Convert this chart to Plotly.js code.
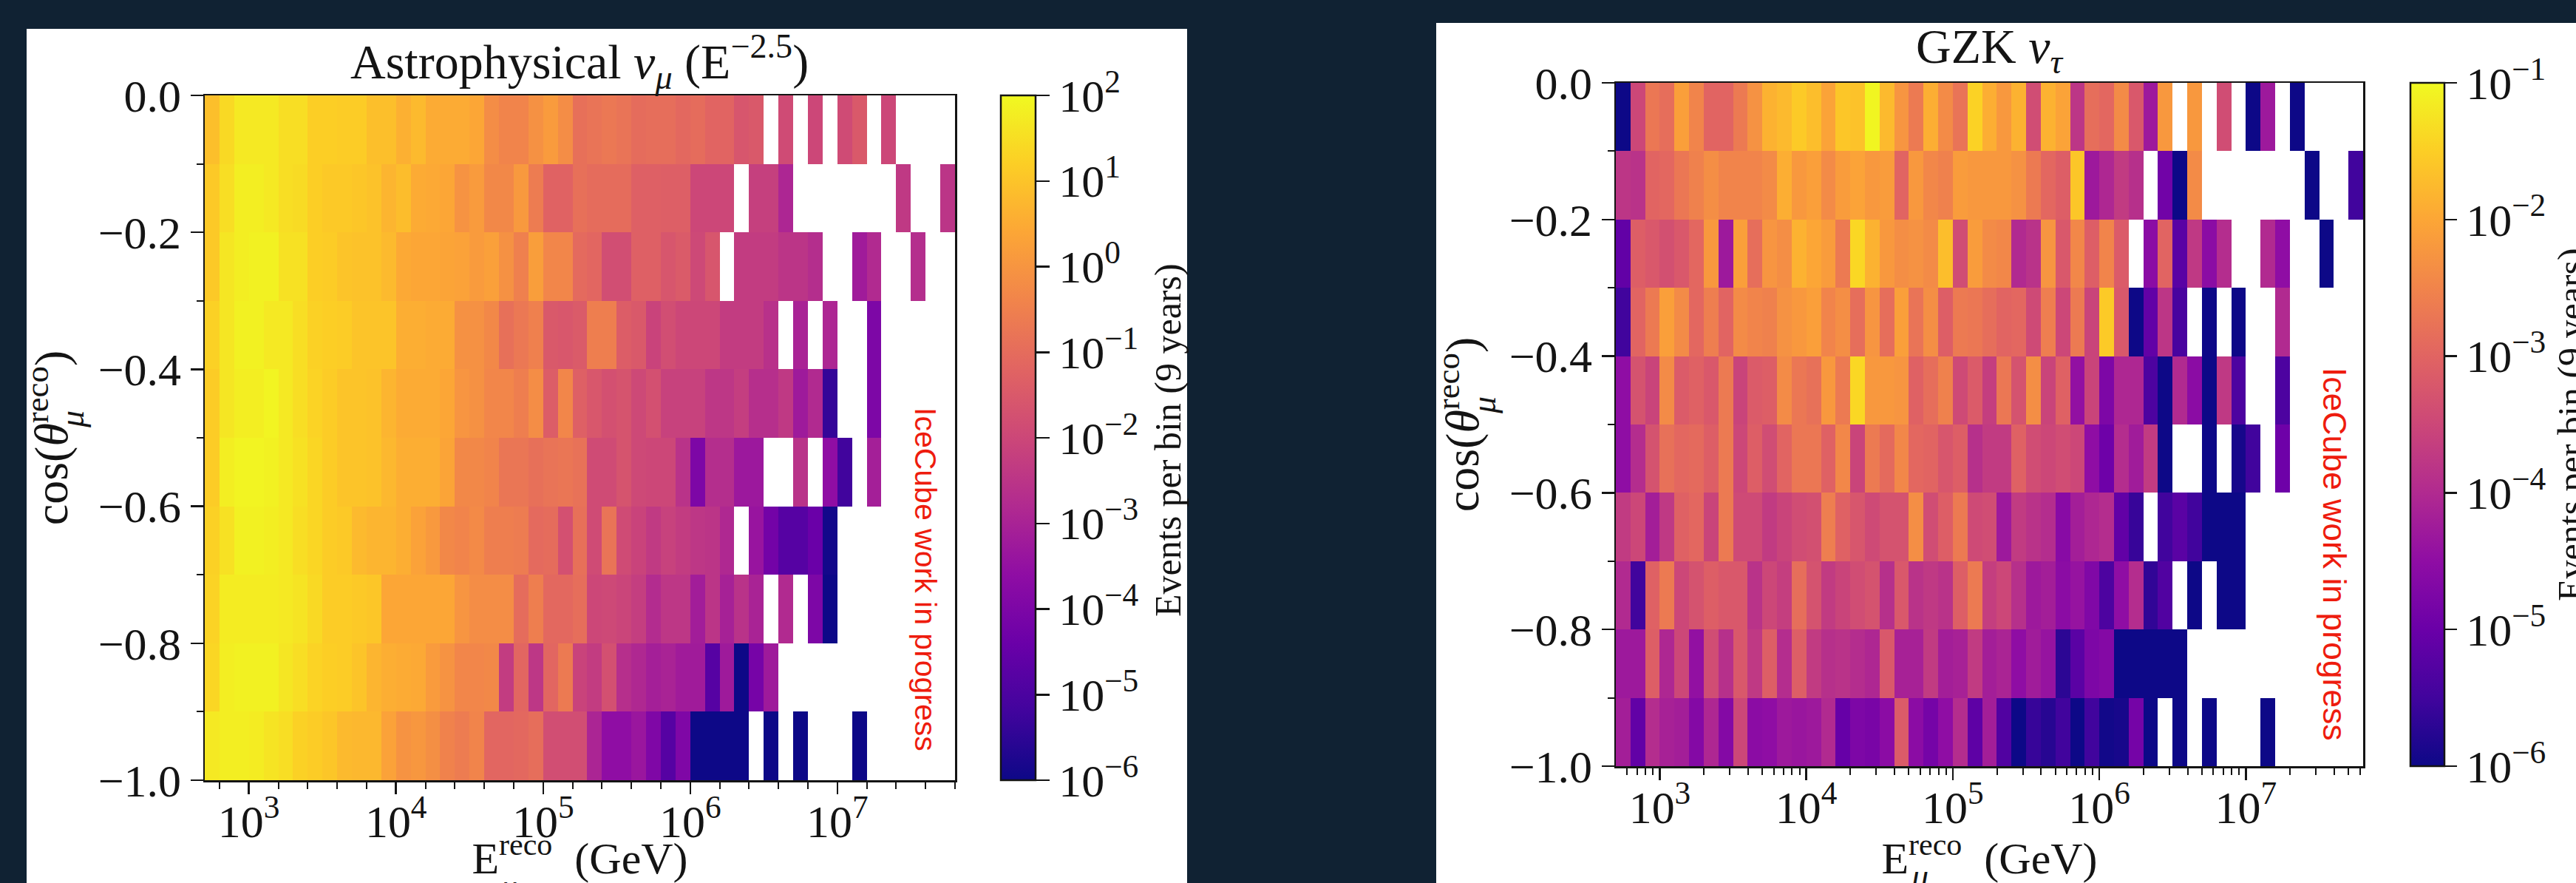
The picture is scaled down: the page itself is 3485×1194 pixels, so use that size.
<!DOCTYPE html>
<html>
<head>
<meta charset="utf-8">
<script src="https://cdn.plot.ly/plotly-3.0.0.min.js"></script>
<style>html,body{margin:0;padding:0;background:#102233;overflow:hidden}</style>
</head>
<body>
<div id="chart" style="width:3485px;height:1194px"></div>
<script>
const _ = null;
// log10(events per bin); rows listed from cos = 0 (top) down to cos = -1 (bottom); 51 energy bins
const energyEdgeExponents = [2.7,2.8,2.9,3.0,3.1,3.2,3.3,3.4,3.5,3.6,3.7,3.8,3.9,4.0,4.1,4.2,4.3,4.4,4.5,4.6,4.7,4.8,4.9,5.0,5.1,5.2,5.3,5.4,5.5,5.6,5.7,5.8,5.9,6.0,6.1,6.2,6.3,6.4,6.5,6.6,6.7,6.8,6.9,7.0,7.1,7.2,7.3,7.4,7.5,7.6,7.7,7.8];
const cosEdges = [-1.0,-0.9,-0.8,-0.7,-0.6,-0.5,-0.4,-0.3,-0.2,-0.1,0.0];

const astro0 = [.9,1.4,1.7,1.7,1.7, 1.5,1.5,1.2,1.2,1.15, 1.15,.9,.9,.6,.8, .5,.5,.5,.4,-.2, -.4,-.4,-.1,.15,-.2, -.9,-.8,-.7,-.8,-1, -.95,-.95,-1.1,-1,-1.2, -1.2,-1.6,-1.5,_,-1.9, _,-2,_,-1.9,-1.5, _,-2,_,_,_,_];
const astro1 = [1.1,1.5,1.8,1.8,1.7, 1.5,1.45,1.2,1.1,1.1, 1.05,.95,.7,.85,.5, .45,.4,-.05,.15,-.3, -.3,.1,-.6,-1.25,-1.25, -.9,-1,-1,-1,-1.3, -1.3,-1.35,-1.35,-2,-2, -2,_,-2.2,-2.2,-2.9, _,_,_,_,_, _,_,-2.4,_,_,-2.5];
const astro2 = [1.1,1.65,1.8,1.85,1.85, 1.55,1.55,1.2,1.15,1, .95,.95,.8,.45,.4, .4,.35,.3,.15,.25, -.1,-.5,.2,-.35,-.35, -1.05,-1.15,-1.8,-1.8,-1.3, -1.3,-1.6,-1.45,-1.95,-1.6, _,-2.3,-2.3,-2.3,-2.5, -2.5,-2.7,_,_,-3.2, -2.8,_,_,-2.7,_,_];
const astro3 = [1.25,1.65,1.85,1.85,1.7, 1.7,1.5,1.25,1.2,1.15, 1,1,1,.55,.55, .5,.5,-.1,-.1,-.3, -.9,-.7,-.5,-1.5,-1.55, -1.45,-.55,-.55,-1.4,-1.5, -2.1,-1.8,-2,-2,-2, -2.3,-2.3,-2.3,-2.6,_, -3,_,-2.9,_,_, -4,_,_,_,_,_];
const astro4 = [1.15,1.65,1.8,1.8,1.9, 1.7,1.5,1.3,1.15,1, 1,.95,.7,.5,.5, .5,.4,0,-.1,-.35, -.35,-.55,-.2,-1.4,-.35, -1.3,-1.55,-1.75,-1.65,-1.95, -1.75,-2.15,-2.15,-2.15,-2.45, -2.45,-2.25,-2.65,-2.65,-2.4, -3.25,-2.8,-5.4,_,_, -4,_,_,_,_,_];
const astro5 = [1.15,1.8,1.9,1.9,1.85, 1.7,1.55,1.35,1.15,1, 1,.95,.75,.55,.55, .55,.35,-.3,-.3,-.4, -.75,-.75,-.9,-.8,-.75, -.85,-1.9,-1.9,-1.65,-1.95, -2,-2,-2.55,-4,-2.7, -2.7,-3.3,-3.3,_,_, -2.55,_,-3.6,-5.2,_, -3.1,_,_,_,_,_];
const astro6 = [1.25,1.55,1.85,1.85,1.8, 1.7,1.5,1.35,1.15,1.1, .8,.7,.7,.55,.3, .1,-.3,-.4,-.25,-.55, -.55,-.6,-1.05,-1,-1.75, -.9,-1.9,-.8,-1.9,-2.1, -2.35,-2.15,-2.3,-2.45,-2.5, -2.85,_,-3.4,-4.2,-4.8, -4.8,-4.4,-5.9,_,_, _,_,_,_,_,_];
const astro7 = [1.3,1.75,1.75,1.75,1.75, 1.7,1.6,1.4,1.15,1.15, 1.1,1.05,.4,.4,.4, .4,.4,0,-.2,-.2, -.2,-1,-.55,-1.1,-1.1, -.95,-2,-1.95,-2.05,-2.25, -2.75,-2.45,-2.45,-3.15,-2.5, -3.05,-2.55,-3,_,-2.8, _,-4,-6,_,_, _,_,_,_,_,_];
const astro8 = [1.35,1.8,1.85,1.85,1.85, 1.65,1.5,1.3,1.2,1.15, 1,.7,.55,.5,.45, .15,-.05,-.35,-.35,-.3, -2.3,-1.15,-2.45,-1.15,-.65, -2.1,-2.3,-1.75,-2.65,-2.85, -3.1,-3,-3.2,-3.2,-4.8, -3.25,-6,-4.15,-3.25,_, _,_,_,_,_, _,_,_,_,_,_];
const astro9 = [1.7,1.8,1.8,1.75,1.6, 1.5,1.25,1.15,1.05,.8, .75,.75,.3,-.05,.05, -.15,-.45,-.6,-.4,-1.15, -1.15,-1.1,-.95,-1.8,-1.8, -1.8,-2.95,-3.6,-3.6,-3.35, -3.95,-4.8,-3.95,-6,-6, -6,-6,_,-6,_, -6,_,_,_,-6, _,_,_,_,_,_];

const gzk0 = [-6,-3.5,-2.7,-2.85,-2.1, -2.5,-3,-3,-2.65,-2.3, -1.85,-1.75,-1.55,-1.7,-2.05, -1.6,-1.65,-1.05,-1.75,-2.25, -2.65,-1.9,-2.4,-2.75,-1.45, -1.9,-2.2,-1.85,-3.4,-1.85, -2.05,-3.8,-2.85,-2.95,-2.4, -3.2,-4.3,-2.2,_,-2.2, _,-3.4,_,-6,-4.3, _,-6,_,_,_,_];
const gzk1 = [-3.8,-3.85,-3,-2.95,-2.7, -2.55,-2.35,-2.5,-2.5,-2.5, -2.4,-1.9,-2.2,-2.1,-2.4, -2.15,-2.05,-2.2,-2.15,-3, -2.2,-2.45,-2.55,-2.15,-2.2, -2.2,-2.2,-2.3,-2.65,-2.95, -3.1,-1.6,-4.3,-4.05,-3.7, -3.9,_,-4.9,-6,-2.4, _,_,_,_,_, _,_,-6,_,_,-5.5];
const gzk2 = [-5.1,-3.1,-3.2,-3.35,-3.2, -2.95,-2.2,-4.3,-2.1,-2.85, -2.25,-2.35,-1.85,-2,-2.15, -2.65,-1.4,-1.85,-2.2,-2.35, -2.3,-2.4,-1.7,-3.4,-2.15, -2.4,-2.45,-4,-3.85,-2.25, -3.2,-2.45,-3.1,-2.5,-3.15, _,-4.55,-3,-5.2,-3.75, -4.55,-3.95,_,_,-4, -4.5,_,_,-6,_,_];
const gzk3 = [-5.5,-3,-2.65,-2.1,-2.4, -2.95,-2.6,-3,-2.4,-2.5, -2.55,-2.3,-2.2,-2.1,-2.5, -2.35,-2.85,-2.25,-2.85,-2.1, -2.75,-2.35,-3.1,-2.65,-2.7, -2.85,-3,-2.95,-3.45,-2.6, -3.5,-2.65,-3.55,-1.55,-3.2, -6,-5.1,-3.8,-5.4,_, -6,_,-6,_,_, -4,_,_,_,_,_];
const gzk4 = [-4.5,-3.3,-3.55,-2.4,-3.15, -3.05,-3.2,-2.65,-3.55,-3.15, -3.1,-2.4,-2.7,-2.8,-2.2, -2.65,-1.4,-2.2,-2.2,-2.25, -3.05,-2.85,-2.55,-3.45,-3.15, -3.65,-2.7,-3.3,-2.35,-3.55, -3.05,-4.45,-3.55,-4.75,-4.05, -4.05,-5.35,-6,-4,-4.55, -6,-3.75,-5.35,_,_, -5.35,_,_,_,_,_];
const gzk5 = [-4.5,-3.95,-3.3,-2.8,-2.95, -2.9,-3.1,-2.65,-3.5,-3.1, -3.4,-3,-2.7,-2.7,-3.05, -2.45,-3.55,-2.65,-2.9,-2.45, -2.95,-3,-3.25,-3.1,-3.9, -3.7,-3.7,-3.05,-3.4,-3.5, -3.4,-3.5,-4.5,-4.95,-3.95, -4.25,-3.7,-6,_,_, -6,_,-5.9,-5.5,_, -4.95,_,_,_,_,_];
const gzk6 = [-3.7,-3.5,-4.2,-3.75,-3.05, -2.95,-3.55,-2.65,-3.45,-3.45, -3.7,-3.55,-3.4,-3.35,-2.6, -3.05,-3.25,-3.45,-3.3,-3.3, -2.35,-3.4,-3.1,-2.65,-3.45, -3.4,-4.3,-3.7,-3.85,-3.95, -4.6,-4.2,-4.05,-3.95,-5.1, -5.6,_,-5.5,-5.2,-5.5, -6,-6,-6,_,_, _,_,_,_,_,_];
const gzk7 = [-4,-5.5,-3.05,-2.65,-3.5, -3.3,-3.1,-3.2,-3.2,-3.85, -3.5,-3.65,-2.85,-3.3,-3.7, -3.55,-3.4,-3.3,-3.9,-3.2, -3.85,-3.75,-3.85,-3.1,-2.65, -3.65,-3.5,-3.9,-4.3,-4.2, -4.55,-4.4,-4.7,-5.35,-4.5, -3.95,-5.65,-5.3,_,-6, _,-6,-6,_,_, _,_,_,_,_,_];
const gzk8 = [-4.3,-4.3,-3.1,-4.05,-3.5, -4.45,-3.4,-3.9,-3.2,-3.75, -3.1,-3.95,-3.1,-3.7,-3.9, -3.85,-3.95,-4.05,-3.2,-4.15, -4.15,-3.7,-4.2,-4.15,-3.7, -4.2,-4.1,-4.5,-4.25,-4.4, -5.7,-5.2,-4.75,-4.65,-6, -6,-6,-6,-6,_, _,_,_,_,_, _,_,_,_,_,_];
const gzk9 = [-4.2,-5.1,-3.95,-4.15,-4.2, -4.65,-4.05,-4.65,-3.5,-4.55, -4.5,-4.3,-4.35,-4.3,-4, -5.05,-4.75,-4.8,-4.55,-3.15, -4.55,-4.85,-4.5,-3.95,-5.15, -4.2,-5.3,-6,-5.6,-5.75, -5.5,-6,-5.5,-5.95,-5.9, -4.85,-6,_,-6,_, -6,_,_,_,-6, _,_,_,_,_,_];

const xTickExponents = [3,4,5,6,7];
const yTickValues = [-1.0,-0.8,-0.6,-0.4,-0.2,0.0];
const yMinorValues = [-0.9,-0.7,-0.5,-0.3,-0.1];
const astroBarDecades = [-6,-5,-4,-3,-2,-1,0,1,2];
const gzkBarDecades = [-6,-5,-4,-3,-2,-1];

const plasma = [[0,'#0d0887'],[.1,'#41049d'],[.2,'#6a00a8'],[.3,'#8f0da4'],[.4,'#b12a90'],[.5,'#cc4778'],[.6,'#e16462'],[.7,'#f1844b'],[.8,'#fca636'],[.9,'#fcce25'],[1,'#f0f921']];

const W = 3485, H = 1194;
const fx = p => p / W, fy = p => 1 - p / H;
const SERIF = '"Liberation Serif","DejaVu Serif",serif';
const INK = '#141414';
const pow10 = e => Math.pow(10, e);
const xEdges = energyEdgeExponents.map(pow10);
const sup = n => '10<sup>' + String(n).replace('-', '\u2212') + '</sup>';

const astroZ = [astro9,astro8,astro7,astro6,astro5,astro4,astro3,astro2,astro1,astro0];
const gzkZ = [gzk9,gzk8,gzk7,gzk6,gzk5,gzk4,gzk3,gzk2,gzk1,gzk0];

// pixel frames
const A = {l:277, r:1292, t:129, b:1055, cbx:1354, cbw:47};
const G = {l:2186, r:3197, t:112, b:1036, cbx:3261, cbw:46};

const astroMinorBar = [];
for (let v = -6; v < 2; v += 0.2) { const r = Math.round(v*10)/10; if (Math.abs(r - Math.round(r)) > 1e-6) astroMinorBar.push(r); }
const gzkMinorBar = [];
gzkBarDecades.slice(0,-1).forEach(d => { for (let k = 2; k < 10; k++) gzkMinorBar.push(d + Math.log10(k)); });
const astroMinorX = [];
for (let e = 2.8; e < 7.85; e += 0.2) { const r = Math.round(e*10)/10; if (Math.abs(r - Math.round(r)) > 1e-6) astroMinorX.push(pow10(r)); }
const gzkMinorX = [];
for (let n = 2; n < 8; n++) for (let k = 2; k < 10; k++) { const v = k * pow10(n); if (v > 501 && v < pow10(7.8)) gzkMinorX.push(v); }

function cbar(F, extra) {
  return Object.assign({
    x: fx(F.cbx), xanchor: 'left', xpad: 0,
    y: fy(F.b), yanchor: 'bottom', ypad: 0,
    len: (F.b - F.t) / H, lenmode: 'fraction',
    thickness: F.cbw, thicknessmode: 'pixels',
    outlinecolor: INK, outlinewidth: 2.5,
    ticks: 'outside', tickwidth: 2.5, tickcolor: INK,
    tickfont: {family: SERIF, size: 62, color: INK},
    tickmode: 'array', showticklabels: true
  }, extra);
}

const traces = [
  {type:'heatmap', x:xEdges, y:cosEdges, z:astroZ, xaxis:'x', yaxis:'y', zmin:-6, zmax:2, zsmooth:false,
   colorscale:plasma, hoverongaps:false, name:'Astrophysical',
   colorbar:cbar(A,{tickvals:astroBarDecades, ticktext:astroBarDecades.map(sup), ticklen:18})},
  {type:'heatmap', x:xEdges.slice(0,2), y:cosEdges.slice(0,2), z:[[null]], xaxis:'x', yaxis:'y', zmin:-6, zmax:2,
   colorscale:plasma, hoverinfo:'skip', name:'minor ticks',
   colorbar:cbar(A,{tickvals:astroMinorBar, showticklabels:false, ticklen:9})},
  {type:'heatmap', x:xEdges, y:cosEdges, z:gzkZ, xaxis:'x2', yaxis:'y2', zmin:-6, zmax:-1, zsmooth:false,
   colorscale:plasma, hoverongaps:false, name:'GZK',
   colorbar:cbar(G,{tickvals:gzkBarDecades, ticktext:gzkBarDecades.map(sup), ticklen:16})},
  {type:'heatmap', x:xEdges.slice(0,2), y:cosEdges.slice(0,2), z:[[null]], xaxis:'x2', yaxis:'y2', zmin:-6, zmax:-1,
   colorscale:plasma, hoverinfo:'skip', name:'minor ticks',
   colorbar:cbar(G,{tickvals:gzkMinorBar, showticklabels:false, ticklen:16})}
];

function xAxis(F, minorVals, yref, standoff) {
  return {
    domain:[fx(F.l), fx(F.r)], anchor:yref, type:'log', range:[2.7,7.8],
    tickmode:'array', tickvals:xTickExponents.map(pow10), ticktext:xTickExponents.map(e=>'10<sup>'+e+'</sup>'),
    ticks:'outside', ticklen:16, tickwidth:2.5, tickcolor:INK, ticklabelstandoff:-16,
    minor:{tickmode:'array', tickvals:minorVals, ticks:'outside', ticklen:9, tickwidth:2, tickcolor:INK, showgrid:false},
    showgrid:false, zeroline:false, showline:true, mirror:true, linecolor:INK, linewidth:2.5,
    tickfont:{family:SERIF, size:62, color:INK}, automargin:false,
    title:{text:'E<sup>reco</sup>\u00a0 (GeV)', font:{family:SERIF, size:60, color:INK}, standoff:standoff}
  };
}
function yAxis(F, xref, standoff) {
  return {
    domain:[fy(F.b), fy(F.t)], anchor:xref, range:[-1,0],
    tickmode:'array', tickvals:yTickValues, ticktext:yTickValues.map(v=>v===0?'0.0':'\u2212'+Math.abs(v).toFixed(1)),
    ticks:'outside', ticklen:17, tickwidth:2.5, tickcolor:INK, ticklabelstandoff:0,
    minor:{tickmode:'array', tickvals:yMinorValues, ticks:'outside', ticklen:9, tickwidth:2, tickcolor:INK, showgrid:false},
    showgrid:false, zeroline:false, showline:true, mirror:true, linecolor:INK, linewidth:2.5,
    tickfont:{family:SERIF, size:62, color:INK}, automargin:false,
    title:{text:'cos(<i>θ</i><sup>reco</sup>)', font:{family:SERIF, size:64, color:INK}, standoff:standoff}
  };
}
function ann(text, x, y, size, angle, color, family, xanchor, yanchor) {
  return {xref:'paper', yref:'paper', x:fx(x), y:fy(y), text:text, showarrow:false, textangle:angle||0,
    xanchor:xanchor||'center', yanchor:yanchor||'middle', font:{family:family||SERIF, size:size, color:color||INK}};
}
const panel = (x0,y0,x1,y1) => ({type:'rect', xref:'paper', yref:'paper', x0:fx(x0), x1:fx(x1), y0:fy(y1), y1:fy(y0), fillcolor:'#ffffff', line:{width:0}, layer:'below'});

const layout = {
  width:W, height:H, margin:{l:0,r:0,t:0,b:0,pad:0}, autosize:false, showlegend:false,
  paper_bgcolor:'#102233', plot_bgcolor:'#ffffff',
  xaxis:xAxis(A, astroMinorX, 'y', 22),
  yaxis:yAxis(A, 'x', 20),
  xaxis2:xAxis(G, gzkMinorX, 'y2', 22),
  yaxis2:yAxis(G, 'x2', 20),
  shapes:[panel(36,39,1606,1194), panel(1943,31,3485,1194)],
  annotations:[
    ann('Astrophysical <i>ν</i><sub><i>μ</i></sub> (E<sup>\u22122.5</sup>)', 784, 84, 66),
    ann('GZK <i>ν</i><sub><i>τ</i></sub>', 2691, 68, 66),
    ann('Events per bin (9 years)', 1580, 595, 50, -90),
    ann('Events per bin (9 years)', 3478, 574, 50, -90),
    ann('IceCube work in progress', 1252, 783, 41, 90, '#ee1c0e', '"Liberation Sans",Arial,sans-serif'),
    ann('IceCube work in progress', 3159, 749, 44.5, 90, '#ee1c0e', '"Liberation Sans",Arial,sans-serif'),
    ann('<i>μ</i>', 97, 567, 46, -90),
    ann('<i>μ</i>', 2007, 548, 46, -90),
    ann('<i>μ</i>', 688, 1198, 46),
    ann('<i>μ</i>', 2597, 1184, 46)
  ]
};
Plotly.newPlot('chart', traces, layout, {displayModeBar:false, staticPlot:true});
</script>
</body>
</html>
